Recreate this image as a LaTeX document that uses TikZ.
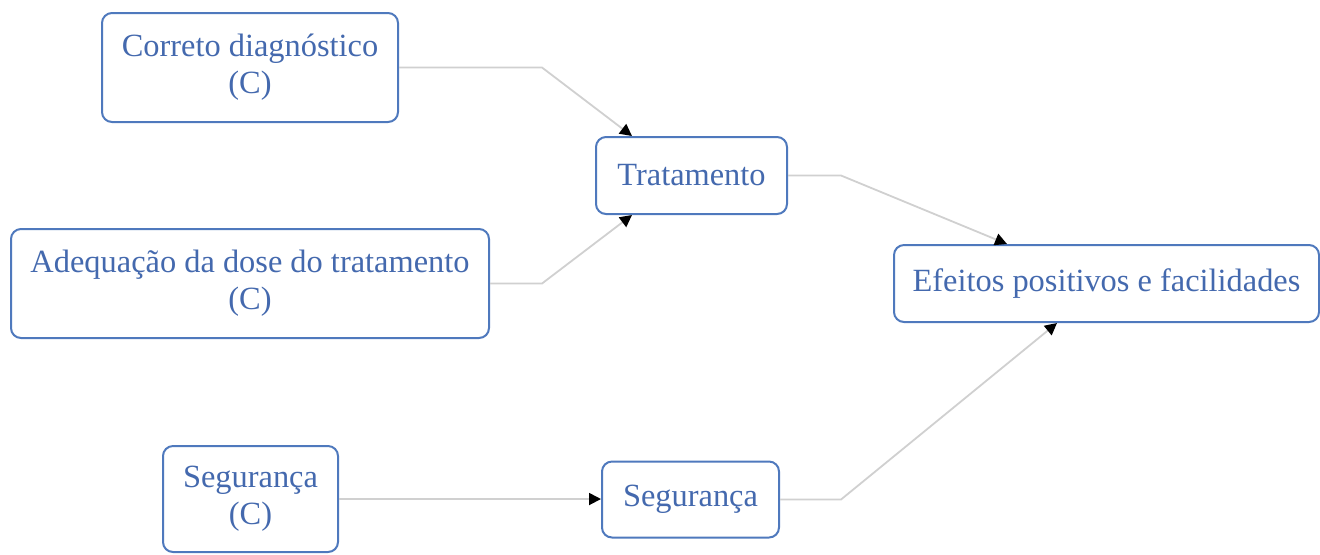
\documentclass[tikz,border=0pt]{standalone}
\usepackage{fontspec}
\setmainfont{Liberation Serif}
\usetikzlibrary{arrows.meta}
\definecolor{boxblue}{HTML}{4F79BD}
\definecolor{txtblue}{HTML}{4469AE}
\definecolor{linegray}{HTML}{D0D0D0}
\tikzset{
  box/.style={draw=boxblue, line width=1pt, rounded corners=5pt, fill=white,
    text=txtblue, align=center, inner sep=0pt,
    font=\fontsize{16.2}{18.5}\selectfont},
  conn/.style={draw=linegray, line width=0.9pt,
    -{Triangle[length=6pt,width=6pt,color=black]}}
}
\begin{document}
\begin{tikzpicture}[x=0.5pt,y=-0.5pt]
\useasboundingbox (0,0) rectangle (1320,554);
\node[box, minimum width=148pt, minimum height=54.5pt] (b1) at (250,67.5) {Correto diagnóstico\\(C)};
\node[box, minimum width=95.5pt, minimum height=38.5pt] (b2) at (691.5,175.5) {Tratamento};
\node[box, minimum width=239pt, minimum height=54.5pt] (b3) at (250,283.5) {Adequação da dose do tratamento\\(C)};
\node[box, minimum width=212.5pt, minimum height=38.5pt] (b4) at (1106.5,283.5) {Efeitos positivos e facilidades};
\node[box, minimum width=87.5pt, minimum height=53pt] (b5) at (250.5,499) {Segurança\\(C)};
\node[box, minimum width=88.5pt, minimum height=38pt] (b6) at (690.5,499.5) {Segurança};
\draw[conn] (b1.east) -- ++(143,0) -- ([xshift=18.5pt]b2.north west);
\draw[conn] (b3.east) -- ++(52,0) -- ([xshift=18.5pt]b2.south west);
\draw[conn] (b2.east) -- ++(53,0) -- ([xshift=57pt]b4.north west);
\draw[conn] (b6.east) -- ++(61,0) -- ([xshift=82pt]b4.south west);
\draw[conn] (b5.east) -- (b5.east -| b6.west);
\end{tikzpicture}
\end{document}
